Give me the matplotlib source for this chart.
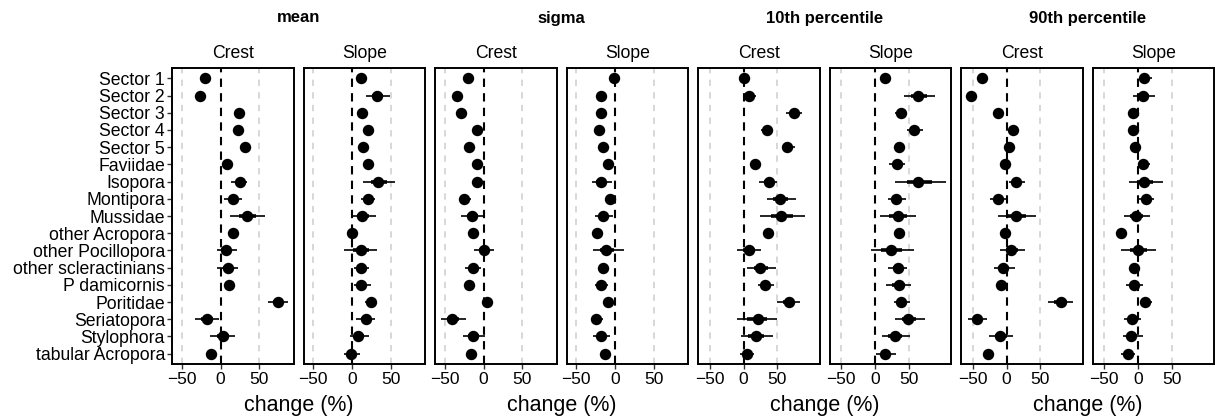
import numpy as np
import matplotlib
matplotlib.use("Agg")
import matplotlib.pyplot as plt

plt.rcParams['font.family'] = ['Liberation Sans', 'DejaVu Sans']

taxa = ["Sector 1", "Sector 2", "Sector 3", "Sector 4", "Sector 5", "Faviidae",
        "Isopora", "Montipora", "Mussidae", "other Acropora", "other Pocillopora",
        "other scleractinians", "P damicornis", "Poritidae", "Seriatopora",
        "Stylophora", "tabular Acropora"]

stats = ["mean", "sigma", "10th percentile", "90th percentile"]
sites = ["Crest", "Slope"]

# estimate, lower and upper of the outer interval (change %)
mean_crest_est = [-20, -27, 24, 22, 31, 8, 25, 16, 34, 16, 7, 9, 11, 74, -18, 3, -12]
mean_crest_lo = [-23, -30, 20, 18, 27, 4, 14, 5, 12, 12, -5, -4, 5, 61, -33, -13, -16]
mean_crest_hi = [-17, -24, 28, 26, 34, 12, 34, 28, 57, 19, 21, 23, 17, 87, -2, 19, -7]

mean_slope_est = [12, 32, 13, 21, 14, 20, 34, 21, 13, 0, 11, 12, 12, 24, 18, 8, -1]
mean_slope_lo = [6, 18, 9, 16, 10, 14, 14, 12, -1, -3, -10, 3, 2, 17, 5, -3, -10]
mean_slope_hi = [19, 49, 17, 26, 18, 27, 56, 29, 31, 3, 32, 22, 25, 29, 30, 22, 10]

sigma_crest_est = [-20, -34, -29, -8, -19, -9, -9, -25, -15, -14, 0, -14, -19, 4, -40, -13, -16]
sigma_crest_lo = [-24, -38, -33, -12, -23, -13, -13, -29, -29, -18, -12, -24, -23, -2, -55, -26, -20]
sigma_crest_hi = [-16, -30, -25, -4, -15, -5, -5, -16, 0, -10, 13, -3, -15, 12, -22, 2, -12]

sigma_slope_est = [-1, -18, -18, -21, -15, -9, -18, -6, -15, -23, -12, -15, -18, -9, -25, -18, -13]
sigma_slope_lo = [-5, -24, -22, -25, -19, -13, -30, -10, -26, -27, -28, -19, -26, -13, -31, -29, -18]
sigma_slope_hi = [3, -10, -14, -17, -11, -5, -4, -2, -3, -19, 11, -11, -9, -5, -15, -7, -7]

p10_crest_est = [0, 8, 74, 34, 65, 17, 37, 54, 56, 36, 8, 25, 32, 67, 21, 18, 5]
p10_crest_lo = [-5, -1, 63, 26, 57, 11, 23, 34, 25, 31, -9, 5, 21, 50, -10, -4, -5]
p10_crest_hi = [7, 19, 87, 44, 76, 25, 49, 77, 91, 41, 26, 48, 45, 83, 50, 43, 15]

p10_slope_est = [15, 64, 38, 58, 36, 32, 64, 31, 34, 35, 23, 34, 35, 39, 49, 29, 15]
p10_slope_lo = [7, 43, 30, 48, 29, 21, 29, 19, 8, 28, -6, 19, 16, 28, 30, 10, 2]
p10_slope_hi = [24, 89, 48, 71, 43, 44, 105, 46, 60, 44, 57, 48, 53, 52, 74, 52, 31]

p90_crest_est = [-37, -52, -13, 10, 3, -2, 14, -13, 14, -2, 7, -6, -8, 80, -44, -9, -27]
p90_crest_lo = [-41, -56, -17, 4, -1, -6, 4, -24, -13, -6, -10, -19, -12, 61, -57, -26, -31]
p90_crest_hi = [-33, -48, -9, 18, 7, 2, 27, 0, 43, 2, 27, 13, -4, 98, -29, 10, -23]

p90_slope_est = [9, 7, -7, -8, -5, 8, 9, 12, -3, -25, 0, -6, -6, 11, -9, -11, -15]
p90_slope_lo = [2, -8, -11, -12, -9, 2, -13, 2, -21, -29, -25, -13, -18, 4, -21, -22, -26]
p90_slope_hi = [20, 25, -3, -4, -1, 18, 37, 24, 18, -21, 26, 2, 8, 20, 5, 7, -5]

panels = [
    (mean_crest_est, mean_crest_lo, mean_crest_hi),
    (mean_slope_est, mean_slope_lo, mean_slope_hi),
    (sigma_crest_est, sigma_crest_lo, sigma_crest_hi),
    (sigma_slope_est, sigma_slope_lo, sigma_slope_hi),
    (p10_crest_est, p10_crest_lo, p10_crest_hi),
    (p10_slope_est, p10_slope_lo, p10_slope_hi),
    (p90_crest_est, p90_crest_lo, p90_crest_hi),
    (p90_slope_est, p90_slope_lo, p90_slope_hi),
]
xlims = [(-62.5, 94), (-62.5, 94), (-67.5, 112.5), (-67.5, 112.5)]

W, H = 1215, 419
fig = plt.figure(figsize=(W / 100, H / 100), dpi=100)

left0, pw, step = 172, 121.5, 131.5
top, bottom = 68, 364
y = np.arange(len(taxa))

for i, (est, lo, hi) in enumerate(panels):
    est, lo, hi = np.array(est), np.array(lo), np.array(hi)
    ax = fig.add_axes([(left0 + i * step) / W, (H - bottom) / H,
                       pw / W, (bottom - top) / H])
    g = i // 2
    ax.set_xlim(xlims[g])
    ax.set_ylim(len(taxa) - 0.4, -0.6)
    for v in (-50, 50):
        ax.axvline(v, color="#d4d4d4", ls=(0, (3.5, 3.5)), lw=1.3, zorder=0)
    ax.axvline(0, color="black", ls=(0, (4, 3)), lw=1.5, zorder=1)
    # inner (~66%) interval about half the width of the outer one
    in_lo = est - 0.49 * (est - lo)
    in_hi = est + 0.49 * (hi - est)
    ax.hlines(y, lo, hi, color="black", lw=1.2, zorder=2)
    ax.hlines(y, in_lo, in_hi, color="black", lw=2.6, zorder=3)
    ax.plot(est, y, "o", color="black", ms=7.2, zorder=4)

    ax.set_xticks([-50, 0, 50])
    ax.set_xticklabels(["\u221250", "0", "50"])
    ax.tick_params(axis="x", length=3.5, width=1, labelsize=12.5, pad=2.5,
                   color="#333333")
    if i == 0:
        ax.set_yticks(y)
        ax.set_yticklabels(taxa)
        ax.tick_params(axis="y", length=3.5, width=1, labelsize=12.7, pad=1.5,
                       color="#333333")
    else:
        ax.set_yticks([])
    for s in ax.spines.values():
        s.set_linewidth(1.4)
    ax.set_title(sites[i % 2], fontsize=12.7, pad=7)
    if i % 2 == 0:
        cx = (left0 + i * step + step + pw) / W * 0.5 + (left0 + i * step) / W * 0.5
        fig.text(cx, 1 - 18 / H, stats[g], ha="center", va="center",
                 fontsize=12, fontweight="bold")
        fig.text(cx, 1 - 405 / H, "change (%)", ha="center", va="center",
                 fontsize=15.5)

fig.savefig("out.png", dpi=100)
